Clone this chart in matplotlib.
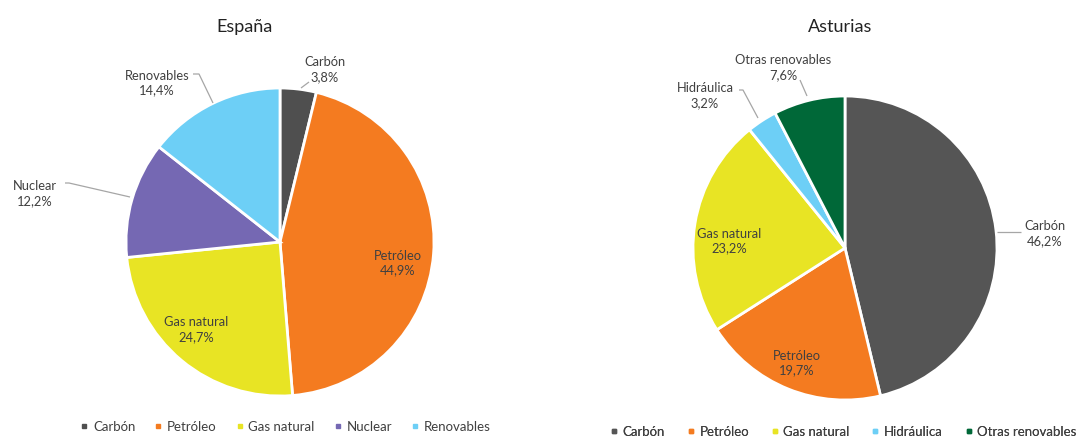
import matplotlib.pyplot as plt
from matplotlib.lines import Line2D

plt.rcParams['font.family'] = ['Lato', 'DejaVu Sans']

W, H = 1079, 437

# Energy mix (% of primary energy)
es_labels = ['Carbón', 'Petróleo', 'Gas natural', 'Nuclear', 'Renovables']
es_values = [3.8, 44.9, 24.7, 12.2, 14.4]
es_colors = ['#4f4f4f', '#f47b20', '#e8e424', '#7568b3', '#6dcff6']

as_labels = ['Carbón', 'Petróleo', 'Gas natural', 'Hidráulica', 'Otras renovables']
as_values = [46.2, 19.7, 23.2, 3.2, 7.6]
as_colors = ['#555555', '#f47b20', '#e8e424', '#6dcff6', '#006838']

TEXT = '#404040'
LEADER = '#a6a6a6'


def py(y):
    # pixel rows are counted from the top
    return H - y


def fmt(v):
    return f'{v:.1f}%'.replace('.', ',')


fig = plt.figure(figsize=(W / 100, H / 100), dpi=100)
ax = fig.add_axes([0, 0, 1, 1])


def draw_pie(values, colors, cx, cy, r):
    ax.pie(values, colors=colors, startangle=90, counterclock=False,
           center=(cx, py(cy)), radius=r,
           wedgeprops=dict(edgecolor='white', linewidth=2))


def label(x, y, name, v):
    ax.text(x, py(y), f'{name}\n{fmt(v)}', ha='center', va='center',
            fontsize=9.3, color=TEXT, linespacing=1.3)


def leader(pts):
    xs = [p[0] for p in pts]
    ys = [py(p[1]) for p in pts]
    ax.plot(xs, ys, color=LEADER, lw=0.9, solid_capstyle='butt')


# España
draw_pie(es_values, es_colors, 280, 242, 154)
label(325, 70, es_labels[0], es_values[0])
leader([(309, 82), (301, 88)])
label(398, 263, es_labels[1], es_values[1])
label(196, 330, es_labels[2], es_values[2])
label(35, 194, es_labels[3], es_values[3])
leader([(65, 183), (69, 183), (130, 197)])
label(157, 83, es_labels[4], es_values[4])
leader([(193, 74), (199, 74), (213, 103)])

# Asturias
draw_pie(as_values, as_colors, 845, 248, 152)
label(1045, 234, as_labels[0], as_values[0])
leader([(1021, 232), (997, 232)])
label(797, 363, as_labels[1], as_values[1])
label(729, 241, as_labels[2], as_values[2])
label(705, 96, as_labels[3], as_values[3])
leader([(739, 90), (743, 90), (758, 118)])
label(783, 68, as_labels[4], as_values[4])
leader([(800, 80), (807, 96)])

ax.text(245, py(27), 'España', ha='center', va='center', fontsize=13, color='#222222')
ax.text(840, py(27), 'Asturias', ha='center', va='center', fontsize=13, color='#222222')


def legend(names, colors, x, y, spacing):
    handles = [Line2D([], [], marker='s', markersize=3, linestyle='none',
                      color=c) for c in colors]
    leg = ax.legend(handles, names, loc='center', ncol=len(names),
                    bbox_to_anchor=(x / W, 1 - y / H), frameon=False,
                    fontsize=9.5, handletextpad=0.3, columnspacing=spacing,
                    labelcolor=TEXT, handlelength=0.7)
    ax.add_artist(leg)


legend(es_labels, es_colors, 285, 427, 1.4)
legend(as_labels, as_colors, 843, 432, 1.6)

ax.set_xlim(0, W)
ax.set_ylim(0, H)
ax.set_aspect('auto')
ax.axis('off')

fig.savefig('out.png', dpi=100, facecolor='white')
